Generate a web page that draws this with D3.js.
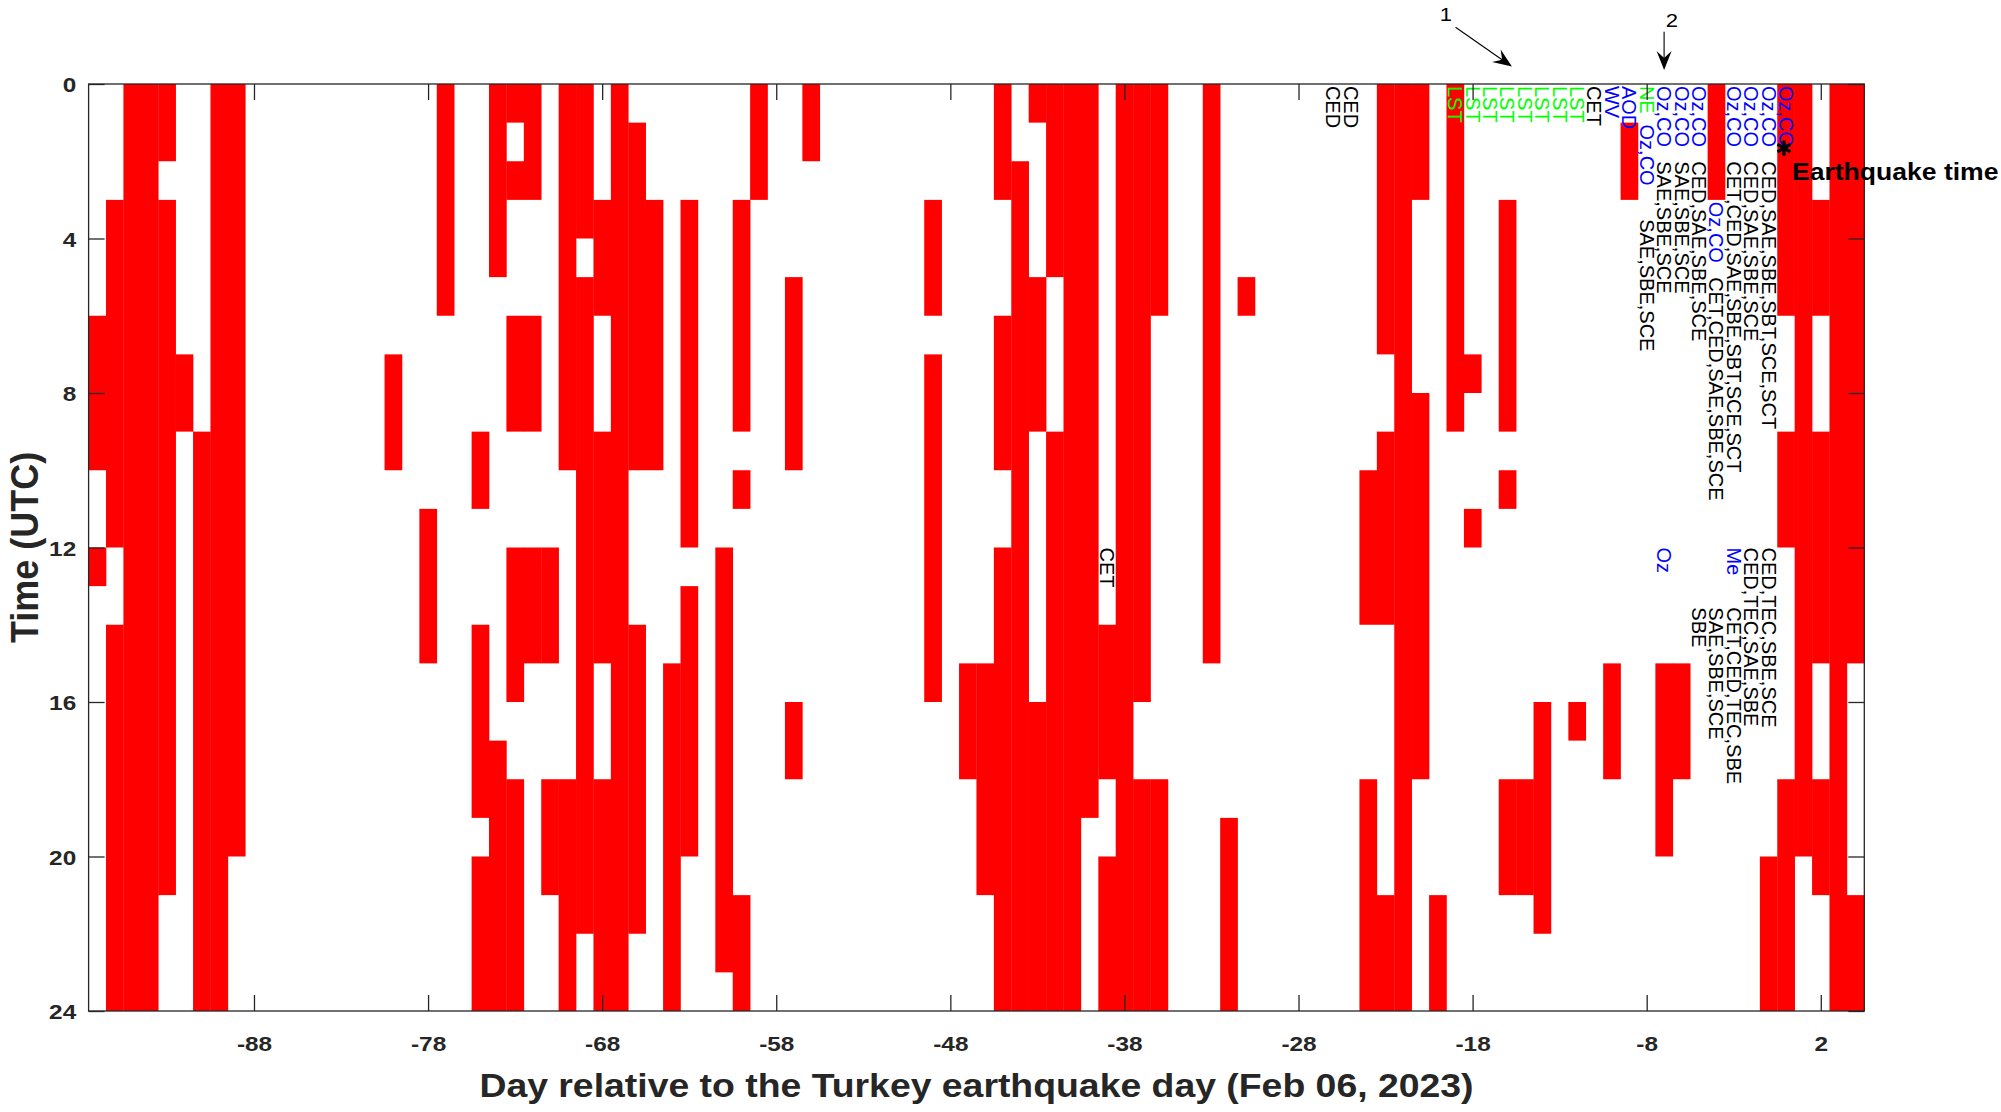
<!DOCTYPE html>
<html><head><meta charset="utf-8">
<script src="https://cdn.jsdelivr.net/npm/d3@7"></script>
<style>
html,body{margin:0;padding:0;background:#fff;}
svg{display:block;font-family:"Liberation Sans",Arial,Helvetica,sans-serif;}
</style>
</head><body>
<svg id="chart" width="2001" height="1112"></svg>
<script>
// ---------------- data ----------------
const dayRange = [-97, 4];                       // first and last day column
const hourRange = [0, 24];
const xTickValues = [-88, -78, -68, -58, -48, -38, -28, -18, -8, 2];
const yTickValues = [0, 4, 8, 12, 16, 20, 24];
const xAxisTitle = "Day relative to the Turkey earthquake day (Feb 06, 2023)";
const yAxisTitle = "Time (UTC)";

// anomalous hours (UTC hour cells) for each day, as hour runs
const anomalyRuns = [
  [-97, "6-9,12"],
  [-96, "3-11,14-23"],
  [-95, "0-23"],
  [-94, "0-23"],
  [-93, "0-1,3-20"],
  [-92, "7-8"],
  [-91, "9-23"],
  [-90, "0-23"],
  [-89, "0-19"],
  [-80, "7-9"],
  [-78, "11-14"],
  [-77, "0-5"],
  [-75, "9-10,14-18,20-23"],
  [-74, "0-4,17-23"],
  [-73, "0,2,6-8,12-15,18-23"],
  [-72, "0-2,6-8,12-14"],
  [-71, "12-14,18-20"],
  [-70, "0-9,18-23"],
  [-69, "0-3,5-21"],
  [-68, "3-5,9-14,18-23"],
  [-67, "0-23"],
  [-66, "1-9,14-21"],
  [-65, "3-9"],
  [-64, "15-23"],
  [-63, "3-11,13-19"],
  [-61, "12-22"],
  [-60, "3-8,10,21-23"],
  [-59, "0-2"],
  [-57, "5-9,16-17"],
  [-56, "0-1"],
  [-49, "3-5,7-15"],
  [-47, "15-17"],
  [-46, "15-20"],
  [-45, "0-2,6-9,12-23"],
  [-44, "2-23"],
  [-43, "0,5-8,16-23"],
  [-42, "0-4,9-23"],
  [-41, "0-23"],
  [-40, "0-18"],
  [-39, "14-17,20-23"],
  [-38, "0-23"],
  [-37, "0-15,18-23"],
  [-36, "0-5,18-23"],
  [-33, "0-14"],
  [-32, "19-23"],
  [-31, "5"],
  [-24, "10-13,18-23"],
  [-23, "0-6,9-13,21-23"],
  [-22, "0-23"],
  [-21, "0-2,8-17"],
  [-20, "21-23"],
  [-19, "0-8"],
  [-18, "7,11"],
  [-16, "3-8,10,18-20"],
  [-15, "18-20"],
  [-14, "16-21"],
  [-12, "16"],
  [-10, "15-17"],
  [-9, "1-2"],
  [-7, "15-19"],
  [-6, "15-17"],
  [-4, "0-2"],
  [-1, "20-23"],
  [0, "0-5,9-11,18-23"],
  [1, "0-19"],
  [2, "3-5,9-14,18-20"],
  [3, "0-23"],
  [4, "0-14,21-23"]
];

// vertical text annotations: [day, start hour, text, colour key]
const annotationLabels = [
  [-26, 0.05, "CED", "k"], [-25, 0.05, "CED", "k"],
  [-19, 0.05, "LST", "g"], [-18, 0.05, "LST", "g"], [-17, 0.05, "LST", "g"], [-16, 0.05, "LST", "g"],
  [-15, 0.05, "LST", "g"], [-14, 0.05, "LST", "g"], [-13, 0.05, "LST", "g"], [-12, 0.05, "LST", "g"],
  [-11, 0.05, "CET", "k"],
  [-10, 0.05, "WV", "b"],
  [-9, 0.05, "AOD", "b"],
  [-8, 0.05, "NE", "g"],
  [-7, 0.05, "Oz,CO", "b"], [-6, 0.05, "Oz,CO", "b"], [-5, 0.05, "Oz,CO", "b"],
  [-3, 0.05, "Oz,CO", "b"], [-2, 0.05, "Oz,CO", "b"], [-1, 0.05, "Oz,CO", "b"], [0, 0.05, "Oz,CO", "b"],
  [-8, 1.05, "Oz,CO", "b"],
  [-8, 3.5, "SAE,SBE,SCE", "k"],
  [-7, 2.0, "SAE,SBE,SCE", "k"],
  [-6, 2.0, "SAE,SBE,SCE", "k"],
  [-5, 2.0, "CED,SAE,SBE,SCE", "k"],
  [-4, 3.05, "Oz,CO", "b"],
  [-4, 5.0, "CET,CED,SAE,SBE,SCE", "k"],
  [-3, 2.0, "CET,CED,SAE,SBE,SBT,SCE,SCT", "k"],
  [-2, 2.0, "CED,SAE,SBE,SCE", "k"],
  [-1, 2.0, "CED,SAE,SBE,SBT,SCE,SCT", "k"],
  [-39, 12.0, "CET", "k"],
  [-7, 12.0, "Oz", "b"],
  [-3, 12.0, "Me", "b"],
  [-2, 12.0, "CED,TEC,SAE,SBE", "k"],
  [-1, 12.0, "CED,TEC,SBE,SCE", "k"],
  [-3, 13.55, "CET,CED,TEC,SBE", "k"],
  [-4, 13.55, "SAE,SBE,SCE", "k"],
  [-5, 13.55, "SBE", "k"]
];

// numbered arrows above the plot (day / hour coordinates; negative hour = above the axes)
const arrowLabels = ["1", "2"];
const arrowFrom = [[-18.98, -1.47], [-7.0, -1.35]];
const arrowTo = [[-15.74, -0.45], [-7.0, -0.36]];
const arrowLabelAt = [[-19.53, -1.80], [-6.55, -1.64]];

// earthquake marker
const quakeMarker = {day: 0, hour: 1.66, label: "Earthquake time"};

// ---------------- drawing ----------------
const colorMap = {k: "#000000", b: "#0000ff", g: "#00ff00"};
const axisColor = "#262626";
const stretch = 1.16;   // horizontal stretch of the original figure's text

const plot = {left: 88.6, right: 1864.3, top: 84, bottom: 1011};
const x = d3.scaleLinear().domain([dayRange[0] - 0.5, dayRange[1] + 0.5]).range([plot.left, plot.right]);
const y = d3.scaleLinear().domain(hourRange).range([plot.top, plot.bottom]);

const svg = d3.select("#chart");

// cells
const cells = [];
anomalyRuns.forEach(([day, spec]) => {
  spec.split(",").forEach(part => {
    const [a, b] = part.split("-").map(Number);
    cells.push({day, start: a, end: (b === undefined ? a : b) + 1});
  });
});
svg.append("g").selectAll("rect").data(cells).join("rect")
  .attr("x", d => x(d.day - 0.5))
  .attr("width", d => x(d.day + 0.5) - x(d.day - 0.5) + 0.3)
  .attr("y", d => y(d.start))
  .attr("height", d => y(d.end) - y(d.start))
  .attr("fill", "#ff0000");

// annotations
svg.append("g").selectAll("text").data(annotationLabels).join("text")
  .attr("transform", d => `translate(${x(d[0])},${y(d[1])}) rotate(90)`)
  .attr("dy", "0.35em")
  .attr("font-size", 20)
  .attr("fill", d => colorMap[d[3]])
  .text(d => d[2]);

// axes
const tickLen = 16;
const fmt = d => String(d);
const gx = svg.append("g").attr("transform", `translate(0,${plot.bottom})`)
  .call(d3.axisBottom(x).tickValues(xTickValues).tickFormat(fmt).tickSizeInner(-tickLen).tickSizeOuter(0).tickPadding(24.6));
const gxTop = svg.append("g").attr("transform", `translate(0,${plot.top})`)
  .call(d3.axisTop(x).tickValues(xTickValues).tickFormat("").tickSizeInner(-tickLen).tickSizeOuter(0));
const gy = svg.append("g").attr("transform", `translate(${plot.left},0)`)
  .call(d3.axisLeft(y).tickValues(yTickValues).tickFormat(fmt).tickSizeInner(-tickLen).tickSizeOuter(0).tickPadding(12.4 / stretch));
const gyRight = svg.append("g").attr("transform", `translate(${plot.right},0)`)
  .call(d3.axisRight(y).tickValues(yTickValues).tickFormat("").tickSizeInner(-tickLen).tickSizeOuter(0));

[gx, gxTop, gy, gyRight].forEach(g => {
  g.select(".domain").remove();
  g.selectAll(".tick line").attr("stroke", axisColor).attr("stroke-width", 1.3);
  g.selectAll(".tick text")
    .attr("fill", axisColor)
    .attr("font-size", 21)
    .attr("font-weight", "bold")
    .attr("font-family", "'Liberation Sans', Arial, sans-serif")
    .attr("transform", `scale(${stretch},1)`);
});
gy.selectAll(".tick text").attr("dy", "0.36em");

// box
svg.append("rect")
  .attr("x", plot.left).attr("y", plot.top)
  .attr("width", plot.right - plot.left).attr("height", plot.bottom - plot.top)
  .attr("fill", "none").attr("stroke", axisColor).attr("stroke-width", 1.3);

// axis titles
svg.append("text")
  .attr("transform", `translate(${(plot.left + plot.right) / 2},1097) scale(1.15,1)`)
  .attr("text-anchor", "middle")
  .attr("font-size", 32.5).attr("font-weight", "bold").attr("fill", axisColor)
  .text(xAxisTitle);
svg.append("text")
  .attr("transform", `translate(38,${(plot.top + plot.bottom) / 2}) scale(1.06,1) rotate(-90)`)
  .attr("text-anchor", "middle")
  .attr("font-size", 36).attr("font-weight", "bold").attr("fill", axisColor)
  .text(yAxisTitle);

// arrows
function arrowHead(x1, y1, x2, y2) {
  const dx = x2 - x1, dy = y2 - y1, len = Math.hypot(dx, dy);
  const ux = dx / len, uy = dy / len, px = -uy, py = ux;
  const L = 19, w = 7.5, notch = 12;
  const bx = x2 - ux * L, by = y2 - uy * L;
  const nx = x2 - ux * notch, ny = y2 - uy * notch;
  return {path: `M${x2},${y2}L${bx + px * w},${by + py * w}L${nx},${ny}L${bx - px * w},${by - py * w}Z`, nx, ny};
}
const ga = svg.append("g");
arrowLabels.forEach((lab, i) => {
  const x1 = x(arrowFrom[i][0]), y1 = y(arrowFrom[i][1]);
  const x2 = x(arrowTo[i][0]), y2 = y(arrowTo[i][1]);
  const h = arrowHead(x1, y1, x2, y2);
  ga.append("line").attr("x1", x1).attr("y1", y1).attr("x2", h.nx).attr("y2", h.ny)
    .attr("stroke", "#000").attr("stroke-width", 1.1);
  ga.append("path").attr("d", h.path).attr("fill", "#000");
  ga.append("text")
    .attr("transform", `translate(${x(arrowLabelAt[i][0])},${y(arrowLabelAt[i][1])}) scale(${stretch},1)`)
    .attr("text-anchor", "middle").attr("dy", "0.35em")
    .attr("font-size", 19).attr("fill", "#000")
    .text(lab);
});

// earthquake marker (asterisk) + label
const qx = x(quakeMarker.day) - 2, qy = y(quakeMarker.hour);
const r = 7.5;
const star = svg.append("g").attr("transform", `translate(${qx},${qy})`);
[90, 30, 150].forEach(a => {
  const rad = a * Math.PI / 180;
  star.append("line")
    .attr("x1", -Math.cos(rad) * r).attr("y1", -Math.sin(rad) * r)
    .attr("x2", Math.cos(rad) * r).attr("y2", Math.sin(rad) * r)
    .attr("stroke", "#000").attr("stroke-width", 3.2);
});
svg.append("text")
  .attr("transform", `translate(${qx + 8},${qy + 32}) scale(1.13,1)`)
  .attr("font-size", 23.5).attr("font-weight", "bold").attr("fill", "#000")
  .text(quakeMarker.label);
</script>
</body></html>
